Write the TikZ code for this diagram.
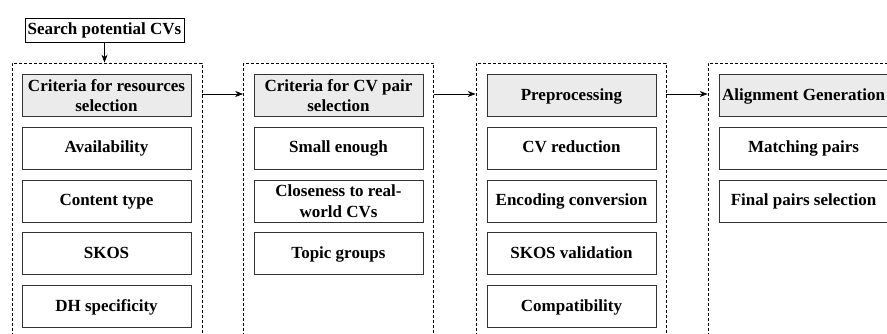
\documentclass[tikz,border=0pt]{standalone}
\usepackage{fontspec}
\setmainfont{Liberation Serif}
\usetikzlibrary{arrows.meta}
\begin{document}
\begin{tikzpicture}[x=1pt,y=-1pt,
  every node/.style={font=\fontsize{17}{20.5}\selectfont\bfseries, align=center, inner sep=0pt},
  item/.style={draw=black!80, line width=0.8pt, minimum width=169pt, minimum height=42pt},
  one/.style={text height=12.5pt, text depth=2.5pt},
  head/.style={item, fill=black!8},
  container/.style={draw, dashed, line width=0.7pt, dash pattern=on 3pt off 2pt, minimum width=190pt, minimum height=290pt},
  conn/.style={-{Stealth[length=8pt,width=6pt]}, line width=0.7pt}
]
\useasboundingbox (0,0) rectangle (887,334);
\begin{scope}
\clip (0,0) rectangle (887,334);
% top
\node[draw=black, line width=0.8pt, minimum width=159pt, minimum height=24pt, one] (search) at (104.5,30) {Search potential CVs};
% containers
\node[container] (c1) at (107,208) {};
\node[container] (c2) at (338.5,208) {};
\node[container] (c3) at (571,208) {};
\node[container] (c4) at (803,208) {};
% column 1
\node[head] (h1) at (106.5,95.5) {Criteria for resources\\selection};
\node[item,one] (a1) at (106.5,148) {Availability};
\node[item,one] (a2) at (106.5,201) {Content type};
\node[item,one] (a3) at (106.5,253.5) {SKOS};
\node[item,one] (a4) at (106.5,306.5) {DH specificity};
% column 2
\node[head] (h2) at (338.5,95.5) {Criteria for CV pair\\selection};
\node[item,one] (b1) at (338.5,148) {Small enough};
\node[item] (b2) at (338.5,201) {Closeness to real-\\world CVs};
\node[item,one] (b3) at (338.5,253.5) {Topic groups};
% column 3
\node[head,one] (h3) at (571.5,95.5) {Preprocessing};
\node[item,one] (d1) at (571.5,148) {CV reduction};
\node[item,one] (d2) at (571.5,201) {Encoding conversion};
\node[item,one] (d3) at (571.5,253.5) {SKOS validation};
\node[item,one] (d4) at (571.5,306.5) {Compatibility};
% column 4
\node[head,one] (h4) at (803.5,95.5) {Alignment Generation};
\node[item,one] (e1) at (803.5,148) {Matching pairs};
\node[item,one] (e2) at (803.5,201) {Final pairs selection};
% connectors
\draw[conn] (search.south) -- (search.south |- c1.north);
\draw[conn] (c1.east |- 0,94) -- (c2.west |- 0,94);
\draw[conn] (c2.east |- 0,94) -- (c3.west |- 0,94);
\draw[conn] (c3.east |- 0,94) -- (c4.west |- 0,94);
\end{scope}
\end{tikzpicture}
\end{document}
